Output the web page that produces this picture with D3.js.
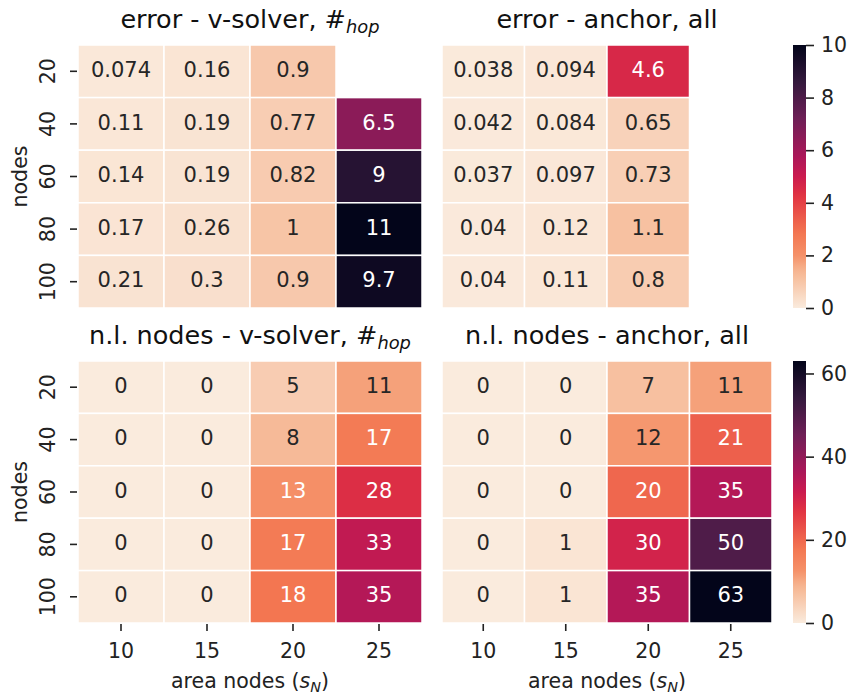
<!DOCTYPE html>
<html>
<head>
<meta charset="utf-8">
<script src="https://cdn.jsdelivr.net/npm/d3@7"></script>
<style>
  body { margin: 0; background: #fff; }
  text { font-family: "DejaVu Sans", sans-serif; }
</style>
</head>
<body>
<div id="chart"></div>
<script>
// area nodes (columns) and nodes (rows)
var cols = [10, 15, 20, 25];
var rows = [20, 40, 60, 80, 100];

// mean error, v-solver with #hop
var errVsolver = [
  [0.074, 0.16, 0.9, null],
  [0.11, 0.19, 0.77, 6.5],
  [0.14, 0.19, 0.82, 9],
  [0.17, 0.26, 1, 11],
  [0.21, 0.3, 0.9, 9.7]
];
// mean error, anchor with all
var errAnchor = [
  [0.038, 0.094, 4.6, null],
  [0.042, 0.084, 0.65, null],
  [0.037, 0.097, 0.73, null],
  [0.04, 0.12, 1.1, null],
  [0.04, 0.11, 0.8, null]
];
// number of non localized nodes
var nlVsolver = [
  [0, 0, 5, 11],
  [0, 0, 8, 17],
  [0, 0, 13, 28],
  [0, 0, 17, 33],
  [0, 0, 18, 35]
];
var nlAnchor = [
  [0, 0, 7, 11],
  [0, 0, 12, 21],
  [0, 0, 20, 35],
  [0, 1, 30, 50],
  [0, 1, 35, 63]
];

var errTicks = [0, 2, 4, 6, 8, 10];
var nlTicks = [0, 20, 40, 60];
var errMax = 10, nlMax = 63;

// rocket colormap (seaborn), approximated by a few stops
var rocketPos = [0, 1/7, 2/7, 3/7, 0.5, 4/7, 5/7, 0.8, 6/7, 1];
var rocketCol = ["#03051a", "#35193e", "#701f57", "#ad1759", "#cb1b4f", "#e13342", "#f37651", "#f59169", "#f6b48f", "#faebdd"];
var rocket = d3.scaleLinear().domain(rocketPos).range(rocketCol).interpolate(d3.interpolateRgb).clamp(true);

function rocketR(vmax) {
  return function(v) { return rocket(1 - Math.min(Math.max(v / vmax, 0), 1)); };
}

function lum(col) {
  var c = d3.rgb(col);
  var f = function(x) { x = x / 255; return x <= 0.03928 ? x / 12.92 : Math.pow((x + 0.055) / 1.055, 2.4); };
  return 0.2126 * f(c.r) + 0.7152 * f(c.g) + 0.0722 * f(c.b);
}

var W = 851, H = 697;
var fs = 20.5, annotFs = 21, titleFs = 25.5;
var fmt = d3.format(".2~g");

var svg = d3.select("#chart").append("svg")
    .attr("width", W)
    .attr("height", H)
    .attr("viewBox", "0 0 " + W + " " + H);

svg.append("rect").attr("width", W).attr("height", H).attr("fill", "#fff");

var colL = {x0: 78, x1: 422}, colR = {x0: 442, x1: 772};
var rowT = {y0: 45, y1: 308}, rowB = {y0: 361, y1: 623};

var panels = [
  {title: "error - v-solver, #", sub: "hop", data: errVsolver, col: colL, row: rowT, vmax: errMax, yAxis: true, xAxis: false},
  {title: "error - anchor, all", sub: null, data: errAnchor, col: colR, row: rowT, vmax: errMax, yAxis: false, xAxis: false},
  {title: "n.l. nodes - v-solver, #", sub: "hop", data: nlVsolver, col: colL, row: rowB, vmax: nlMax, yAxis: true, xAxis: true},
  {title: "n.l. nodes - anchor, all", sub: null, data: nlAnchor, col: colR, row: rowB, vmax: nlMax, yAxis: false, xAxis: true}
];

panels.forEach(function(p) {
  var x = d3.scaleBand().domain(cols).range([p.col.x0, p.col.x1]);
  var y = d3.scaleBand().domain(rows).range([p.row.y0, p.row.y1]);
  var color = rocketR(p.vmax);

  var cells = [];
  p.data.forEach(function(r, i) {
    r.forEach(function(v, j) {
      if (v !== null) cells.push({row: rows[i], col: cols[j], value: v});
    });
  });

  var g = svg.append("g");

  g.selectAll("rect")
      .data(cells)
    .enter().append("rect")
      .attr("x", function(d){ return x(d.col); })
      .attr("y", function(d){ return y(d.row); })
      .attr("width", x.bandwidth())
      .attr("height", y.bandwidth())
      .attr("fill", function(d){ return color(d.value); })
      .attr("stroke", "#fff")
      .attr("stroke-width", 1.5);

  g.selectAll("text.annot")
      .data(cells)
    .enter().append("text")
      .attr("class", "annot")
      .attr("x", function(d){ return x(d.col) + x.bandwidth() / 2; })
      .attr("y", function(d){ return y(d.row) + y.bandwidth() / 2; })
      .attr("dy", "0.27em")
      .attr("text-anchor", "middle")
      .style("font-size", annotFs + "px")
      .attr("fill", function(d){ return lum(color(d.value)) > 0.408 ? "#262626" : "#fff"; })
      .text(function(d){ return fmt(d.value); });

  // title
  var t = g.append("text")
      .attr("x", (p.col.x0 + p.col.x1) / 2)
      .attr("y", p.row.y0 - 17)
      .attr("text-anchor", "middle")
      .style("font-size", titleFs + "px")
      .attr("fill", "#111");
  t.append("tspan").text(p.title);
  if (p.sub) {
    t.append("tspan").attr("dy", 5).style("font-style", "italic").style("font-size", (titleFs * 0.7) + "px").text(p.sub);
  }

  if (p.yAxis) {
    var ya = g.append("g");
    ya.selectAll("line")
        .data(rows)
      .enter().append("line")
        .attr("x1", p.col.x0 - 8).attr("x2", p.col.x0 - 1)
        .attr("y1", function(d){ return y(d) + y.bandwidth() / 2; })
        .attr("y2", function(d){ return y(d) + y.bandwidth() / 2; })
        .attr("stroke", "#222").attr("stroke-width", 1.6);
    ya.selectAll("text")
        .data(rows)
      .enter().append("text")
        .attr("transform", function(d){ return "translate(55," + (y(d) + y.bandwidth() / 2) + ") rotate(-90)"; })
        .attr("text-anchor", "middle")
        .style("font-size", fs + "px")
        .attr("fill", "#222")
        .text(function(d){ return d; });
    g.append("text")
        .attr("transform", "translate(27," + ((p.row.y0 + p.row.y1) / 2) + ") rotate(-90)")
        .attr("text-anchor", "middle")
        .style("font-size", fs + "px")
        .attr("fill", "#222")
        .text("nodes");
  }

  if (p.xAxis) {
    var xa = g.append("g");
    xa.selectAll("line")
        .data(cols)
      .enter().append("line")
        .attr("x1", function(d){ return x(d) + x.bandwidth() / 2; })
        .attr("x2", function(d){ return x(d) + x.bandwidth() / 2; })
        .attr("y1", p.row.y1 + 1).attr("y2", p.row.y1 + 8)
        .attr("stroke", "#222").attr("stroke-width", 1.6);
    xa.selectAll("text")
        .data(cols)
      .enter().append("text")
        .attr("x", function(d){ return x(d) + x.bandwidth() / 2; })
        .attr("y", 658)
        .attr("text-anchor", "middle")
        .style("font-size", fs + "px")
        .attr("fill", "#222")
        .text(function(d){ return d; });
    var xl = g.append("text")
        .attr("x", (p.col.x0 + p.col.x1) / 2)
        .attr("y", 688)
        .attr("text-anchor", "middle")
        .style("font-size", fs + "px")
        .attr("fill", "#222");
    xl.append("tspan").text("area nodes (");
    xl.append("tspan").style("font-style", "italic").text("s");
    xl.append("tspan").attr("dy", 4).style("font-style", "italic").style("font-size", (fs * 0.7) + "px").text("N");
    xl.append("tspan").attr("dy", -4).text(")");
  }
});

// colorbars
var bars = [
  {id: "cb-err", row: rowT, vmax: errMax, ticks: errTicks},
  {id: "cb-nl", row: rowB, vmax: nlMax, ticks: nlTicks}
];
var defs = svg.append("defs");
var cbX = 793, cbW = 13;

bars.forEach(function(b) {
  var color = rocketR(b.vmax);
  var grad = defs.append("linearGradient")
      .attr("id", b.id)
      .attr("x1", 0).attr("y1", 1).attr("x2", 0).attr("y2", 0);
  grad.selectAll("stop")
      .data(d3.range(0, 1.0001, 0.02))
    .enter().append("stop")
      .attr("offset", function(d){ return (d * 100) + "%"; })
      .attr("stop-color", function(d){ return color(d * b.vmax); });

  svg.append("rect")
      .attr("x", cbX).attr("y", b.row.y0)
      .attr("width", cbW).attr("height", b.row.y1 - b.row.y0)
      .style("fill", "url(#" + b.id + ")");

  var s = d3.scaleLinear().domain([0, b.vmax]).range([b.row.y1, b.row.y0]);
  var axis = d3.axisRight(s).tickValues(b.ticks).tickSize(8).tickPadding(7);
  var ag = svg.append("g")
      .attr("transform", "translate(" + (cbX + cbW) + ",0)")
      .call(axis);
  ag.select(".domain").remove();
  ag.selectAll(".tick line").attr("stroke", "#222").attr("stroke-width", 1.6);
  ag.selectAll(".tick text")
      .attr("fill", "#222")
      .style("font-size", fs + "px")
      .style("font-family", "DejaVu Sans, sans-serif");
});
</script>
</body>
</html>
